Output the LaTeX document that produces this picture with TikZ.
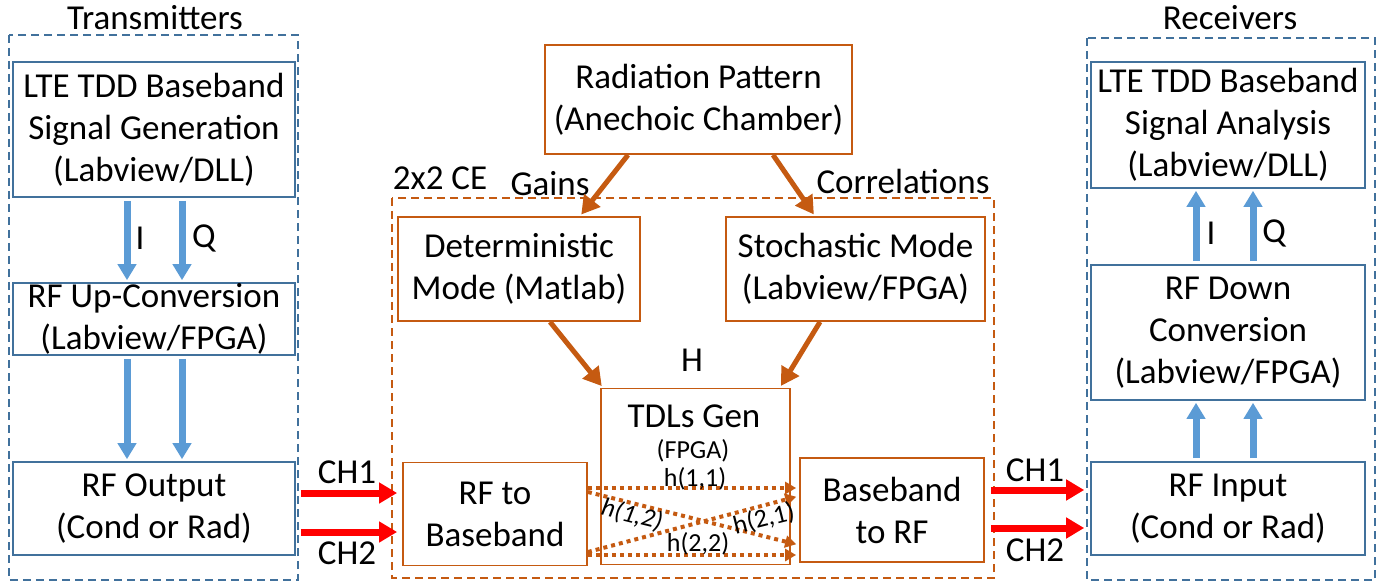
\documentclass[tikz,border=0pt]{standalone}
\usepackage{fontspec}
\setmainfont{Carlito}
\usetikzlibrary{arrows.meta, positioning}

\definecolor{txblue}{HTML}{41719C}
\definecolor{iqblue}{HTML}{5B9BD5}
\definecolor{ceorange}{HTML}{C55A11}

\tikzset{
  bbox/.style={draw=txblue, line width=0.8pt, align=center, inner sep=0pt, minimum width=141pt},
  obox/.style={draw=ceorange, line width=0.9pt, align=center, inner sep=0pt},
  groupbox/.style={dash pattern=on 4pt off 2.5pt, line width=0.7pt},
  iq/.style={draw=iqblue, line width=3.5pt, -{Triangle[length=8pt,width=9pt]}, shorten <=1.5pt, shorten >=1pt},
  ch/.style={draw=red, line width=3.5pt, -{Triangle[length=9pt,width=10pt]}},
  feed/.style={draw=ceorange, line width=2.5pt, -{Triangle[length=9pt,width=10pt]}, shorten >=1pt},
  tap/.style={draw=ceorange, line width=2pt, dash pattern=on 2pt off 2pt, -{Triangle[length=5.5pt,width=6pt]}, shorten >=1.5pt},
  tapfont/.style={font=\fontsize{13}{15}\selectfont}
}

\begin{document}
\begin{tikzpicture}[x=0.5pt, y=-0.5pt, font=\fontsize{17.5}{21}\selectfont]
	\useasboundingbox (0,0) rectangle (1384,582);

	% transmitter chain
	\node[bbox, minimum height=67.5pt] (gen) at (154,129.5) {LTE TDD Baseband\\Signal Generation\\(Labview/DLL)};
	\node[bbox, minimum height=36pt] (upconv) at (154,319) {RF Up-Conversion\\(Labview/FPGA)};
	\node[bbox, minimum height=46.5pt] (rfout) at (154,508.5) {RF Output\\(Cond or Rad)};
	\draw[groupbox, draw=txblue] (9,35) rectangle (298,580);
	\node (txlabel) at (155,18) {Transmitters};

	% receiver chain
	\node[bbox, minimum width=137pt, minimum height=63pt] (ana) at (1228,125) {LTE TDD Baseband\\Signal Analysis\\(Labview/DLL)};
	\node[bbox, minimum width=137pt, minimum height=67.5pt] (downconv) at (1228,332.5) {RF Down\\Conversion\\(Labview/FPGA)};
	\node[bbox, minimum width=137pt, minimum height=46.5pt] (rfin) at (1228,508.5) {RF Input\\(Cond or Rad)};
	\draw[groupbox, draw=txblue] (1087,38) rectangle (1375,580);
	\node (rxlabel) at (1230,18) {Receivers};

	% channel emulator
	\node[obox, minimum width=153.5pt, minimum height=54.5pt] (rad) at (698.5,99.5) {Radiation Pattern\\(Anechoic Chamber)};
	\node[obox, minimum width=121pt, minimum height=52pt] (det) at (519,269) {Deterministic\\Mode (Matlab)};
	\node[obox, minimum width=129.5pt, minimum height=52pt] (stoch) at (855.5,269) {Stochastic Mode\\(Labview/FPGA)};
	\node[obox, minimum width=94.5pt, minimum height=88pt] (tdl) at (695.5,476.5) {};
	\node (tdlname) at (694,416) {TDLs Gen};
	\node[tapfont] (tdlhw) at (693,451) {(FPGA)};
	\node[obox, minimum width=92pt, minimum height=51.5pt] (rf2bb) at (495,514) {RF to\\Baseband};
	\node[obox, minimum width=92pt, minimum height=52pt] (bb2rf) at (892,510) {Baseband\\to RF};
	\draw[groupbox, draw=ceorange] (392,198) rectangle (994,578);
	\node (celabel) at (440,178) {2x2 CE};
	\node (gains) at (550,184) {Gains};
	\node (corr) at (903,181) {Correlations};
	\node (hlabel) at (692,360) {H};

	% I/Q paths
	\draw[iq] ([xshift=-13.5pt]gen.south) -- ([xshift=-13.5pt]upconv.north);
	\draw[iq] ([xshift=14pt]gen.south) -- ([xshift=14pt]upconv.north);
	\draw[iq] ([xshift=-13.5pt]upconv.south) -- ([xshift=-13.5pt]rfout.north);
	\draw[iq] ([xshift=14pt]upconv.south) -- ([xshift=14pt]rfout.north);
	\node at (140,238) {I};
	\node at (204,238) {Q};
	\draw[iq] ([xshift=-16pt]downconv.north) -- ([xshift=-16pt]ana.south);
	\draw[iq] ([xshift=12.5pt]downconv.north) -- ([xshift=12.5pt]ana.south);
	\draw[iq] ([xshift=-16pt]rfin.north) -- ([xshift=-16pt]downconv.south);
	\draw[iq] ([xshift=12.5pt]rfin.north) -- ([xshift=12.5pt]downconv.south);
	\node at (1211,233) {I};
	\node at (1274,233) {Q};

	% RF channels
	\draw[ch, shorten <=2.5pt, shorten >=2.5pt] ([yshift=7.75pt]rfout.east) -- ([yshift=10.5pt]rf2bb.west);
	\draw[ch, shorten <=2.5pt, shorten >=2.5pt] ([yshift=-11.75pt]rfout.east) -- ([yshift=-9pt]rf2bb.west);
	\node at (347,472) {CH1};
	\node at (347,553) {CH2};
	\draw[ch, shorten <=3pt, shorten >=3pt] ([yshift=10pt]bb2rf.east) -- ([yshift=9.25pt]rfin.west);
	\draw[ch, shorten <=3pt, shorten >=3pt] ([yshift=-9pt]bb2rf.east) -- ([yshift=-9.75pt]rfin.west);
	\node at (1035,470) {CH1};
	\node at (1035,550) {CH2};

	% gains, correlations and H
	\draw[feed] ([xshift=-35.25pt]rad.south) -- ([xshift=30.5pt]det.north);
	\draw[feed] ([xshift=37.25pt]rad.south) -- ([xshift=-20.25pt]stoch.north);
	\draw[feed] ([xshift=15.5pt]det.south) -- ([xshift=-46.25pt]tdl.north);
	\draw[feed] ([xshift=-17.75pt]stoch.south) -- ([xshift=42.25pt]tdl.north);

	% channel taps
	\draw[tap] ([yshift=13pt]rf2bb.east) -- ([yshift=11pt]bb2rf.west);
	\draw[tap] ([yshift=11pt]rf2bb.east) -- ([yshift=-17.5pt]bb2rf.west);
	\draw[tap] ([yshift=-19pt]rf2bb.east) -- ([yshift=7pt]bb2rf.west);
	\draw[tap] ([yshift=-20.5pt]rf2bb.east) -- ([yshift=-22.5pt]bb2rf.west);
	\node[tapfont] at (695,479) {h(1,1)};
	\node[tapfont, rotate=-14] at (632,515) {\itshape h(1,2)};
	\node[tapfont, rotate=14] at (764,519) {h(2,1)};
	\node[tapfont] at (698,544) {h(2,2)};
\end{tikzpicture}
\end{document}
